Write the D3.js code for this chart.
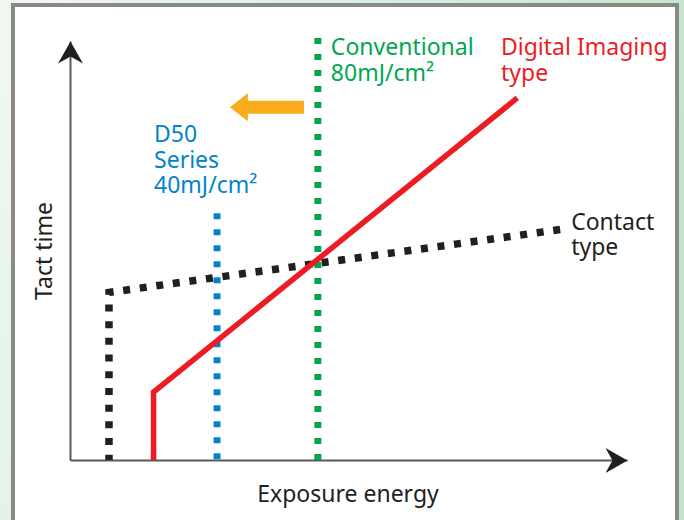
<!DOCTYPE html>
<html>
<head>
<meta charset="utf-8">
<script src="https://cdn.jsdelivr.net/npm/d3@7"></script>
<style>
  body { margin: 0; }
  svg { display: block; font-family: "Noto Sans", sans-serif; }
</style>
</head>
<body>
<div id="chart"></div>
<script>
// conceptual units: energy 0..100 along x, tact time 0..100 along y
var contactEnergy = [88, 7, 7];
var contactTact = [55, 40, 0];
var digitalEnergy = [15, 15, 80.3];
var digitalTact = [0, 16.2, 86.4];

var markerEnergy = [26.4, 44.5];   // D50 (40mJ/cm2), conventional (80mJ/cm2)
var markerTop = [58.9, 100.7];

var arrowFrom = [42, 84.2];
var arrowTo = [28.7, 84.2];

var contactLabel = ["Contact", "type"];
var digitalLabel = ["Digital Imaging", "type"];
var d50Label = ["D50", "Series", "40mJ/cm\u00b2"];
var convLabel = ["Conventional", "80mJ/cm\u00b2"];
var xTitle = "Exposure energy";
var yTitle = "Tact time";

var w = 684, h = 520;

var x = d3.scaleLinear().domain([0, 100]).range([70, 627]);
var y = d3.scaleLinear().domain([0, 100]).range([460, 41]);

var svg = d3.select("#chart").append("svg")
  .attr("width", w)
  .attr("height", h);

var defs = svg.append("defs");
var grad = defs.append("linearGradient").attr("id", "bg")
  .attr("x1", "0").attr("x2", "1").attr("y1", "0").attr("y2", "0.3");
grad.append("stop").attr("offset", "0").attr("stop-color", "#f1f8f2");
grad.append("stop").attr("offset", "1").attr("stop-color", "#c3e4cc");

defs.append("marker")
  .attr("id", "head")
  .attr("markerUnits", "userSpaceOnUse")
  .attr("viewBox", "-22 -13 23 26")
  .attr("refX", 0).attr("refY", 0)
  .attr("markerWidth", 23).attr("markerHeight", 26)
  .attr("orient", "auto")
  .append("path")
  .attr("d", "M0,0L-22,-12.5L-15,0L-22,12.5Z")
  .attr("fill", "#231f20");

svg.append("rect").attr("width", w).attr("height", h).attr("fill", "url(#bg)");

// white panel
svg.append("rect")
  .attr("x", 13).attr("y", 5)
  .attr("width", 664).attr("height", 540)
  .attr("fill", "#fff")
  .attr("stroke", "#898989")
  .attr("stroke-width", 4);

// axes with arrow heads, no ticks
svg.append("g")
  .attr("transform", "translate(0," + y(0) + ")")
  .call(d3.axisBottom(x).tickValues([]).tickSizeOuter(0));
svg.append("g")
  .attr("transform", "translate(" + x(0) + ",0)")
  .call(d3.axisLeft(y).tickValues([]).tickSizeOuter(0));
svg.selectAll(".domain")
  .attr("stroke", "#5a5a5a")
  .attr("stroke-width", 2)
  .attr("marker-end", "url(#head)");

var line = d3.line()
  .x(function(d) { return x(d[0]); })
  .y(function(d) { return y(d[1]); });

// vertical dotted markers
var markerColors = ["#0084cc", "#00a651"];
svg.selectAll("path.marker")
  .data(markerEnergy)
  .enter().append("path")
  .attr("class", "marker")
  .attr("d", function(d, i) { return line([[d, markerTop[i]], [d, 0]]); })
  .attr("fill", "none")
  .attr("stroke", function(d, i) { return markerColors[i]; })
  .attr("stroke-width", 7)
  .attr("stroke-dasharray", "6,10");

// contact type (dotted black)
svg.append("path")
  .attr("d", line(contactEnergy.map(function(e, i) { return [e, contactTact[i]]; })))
  .attr("fill", "none")
  .attr("stroke", "#231f20")
  .attr("stroke-width", 7.5)
  .attr("stroke-dasharray", "7,9.7");

// digital imaging type (solid red)
svg.append("path")
  .attr("d", line(digitalEnergy.map(function(e, i) { return [e, digitalTact[i]]; })))
  .attr("fill", "none")
  .attr("stroke", "#ed1c24")
  .attr("stroke-width", 5.5)
  .attr("stroke-linejoin", "miter");

// orange arrow
var ax0 = x(arrowFrom[0]), ax1 = x(arrowTo[0]), ay = y(arrowFrom[1]);
svg.append("path")
  .attr("d", "M" + ax1 + "," + ay +
    "L" + (ax1 + 18) + "," + (ay - 14) +
    "L" + (ax1 + 18) + "," + (ay - 6.5) +
    "L" + ax0 + "," + (ay - 6.5) +
    "L" + ax0 + "," + (ay + 6.5) +
    "L" + (ax1 + 18) + "," + (ay + 6.5) +
    "L" + (ax1 + 18) + "," + (ay + 14) + "Z")
  .attr("fill", "#f9ad1c");

// labels, one text per line
function label(lines, px, py, color) {
  lines.forEach(function(s, i) {
    svg.append("text")
      .attr("x", px).attr("y", py + i * 25.5)
      .attr("fill", color)
      .style("font-size", "23px")
      .text(s);
  });
}
label(convLabel, x(markerEnergy[1]) + 13, 55, "#00a651");
label(digitalLabel, 501, 55, "#ed1c24");
label(d50Label, x(markerEnergy[0]) - 63, 142, "#0084cc");
label(contactLabel, x(contactEnergy[0]) + 11, y(contactTact[0]), "#231f20");

svg.append("text")
  .attr("x", 348).attr("y", 502)
  .attr("text-anchor", "middle")
  .attr("fill", "#231f20")
  .style("font-size", "23px")
  .text(xTitle);

svg.append("text")
  .attr("transform", "translate(52,251) rotate(-90)")
  .attr("text-anchor", "middle")
  .attr("fill", "#231f20")
  .style("font-size", "23px")
  .text(yTitle);
</script>
</body>
</html>
